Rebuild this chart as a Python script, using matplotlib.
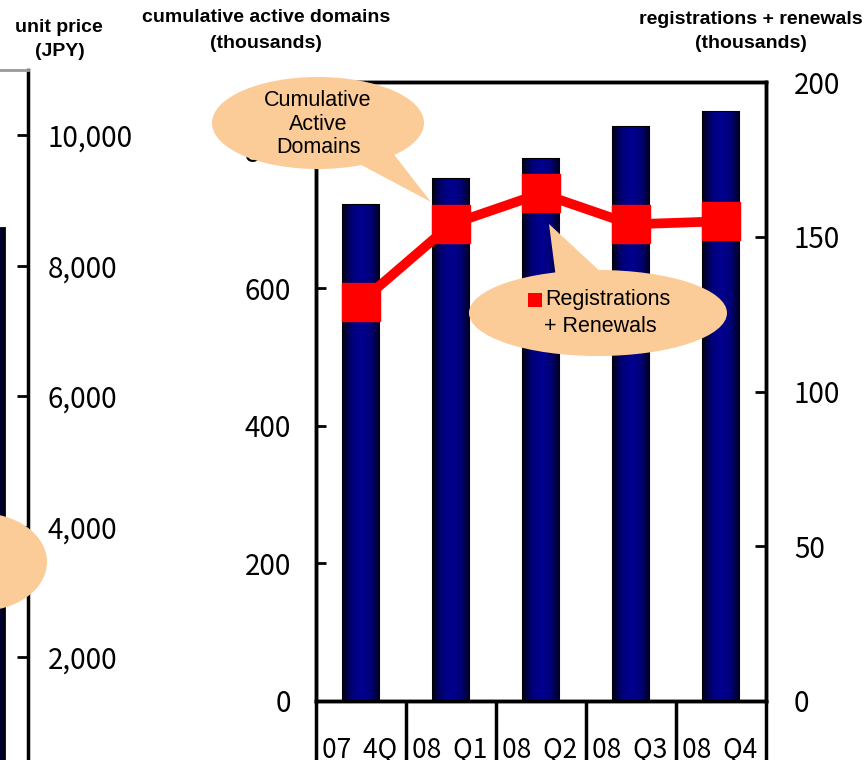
import numpy as np
import matplotlib
matplotlib.use('Agg')
import matplotlib.pyplot as plt
from matplotlib.patches import Ellipse, Polygon, Rectangle
from matplotlib.colors import LinearSegmentedColormap

# data
quarters = ['07  4Q', '08  Q1', '08  Q2', '08  Q3', '08  Q4']
active_domains = [721, 759, 788, 834, 856]      # thousands (left axis)
reg_renew = [129, 154, 164, 154, 155]            # thousands (right axis)
unit_price_visible = [8580]                      # partially visible bar of the left panel
price_ticks = [2000, 4000, 6000, 8000, 10000]

NUM_FONT = ['Noto Sans CJK JP', 'DejaVu Sans']
TXT_FONT = ['Liberation Sans', 'DejaVu Sans']
PEACH = '#FBCB98'
NUM_SIZE = 20

fig = plt.figure(figsize=(8.66, 7.60), dpi=100)
W, H = 866, 760

def px_axes(x0, y_top, x1, y_bot):
    return [x0 / W, (H - y_bot) / H, (x1 - x0) / W, (y_bot - y_top) / H]

# bar gradient (dark edges, lighter middle)
grad = LinearSegmentedColormap.from_list('navy', ['#000020', '#00007A', '#000090', '#00007A', '#000020'])

def gradient_bars(ax, bars):
    g = np.linspace(0, 1, 64).reshape(1, -1)
    for b in bars:
        x, y = b.get_x(), b.get_y()
        w, h = b.get_width(), b.get_height()
        im = ax.imshow(g, cmap=grad, aspect='auto', extent=(x, x + w, y, y + h),
                       zorder=b.get_zorder() + 0.1, interpolation='bicubic')
        im.set_clip_path(b)

# ---- left partial panel (unit price) ----
axl = fig.add_axes(px_axes(-174, 70, 28, 788))
bl = axl.bar([0], unit_price_visible, width=0.52, color='#000080', edgecolor='black', linewidth=2)
gradient_bars(axl, bl)
axl.set_xlim(-1.5, 0.5)
axl.set_ylim(0, 11000)
axl.set_yticks(price_ticks)
axl.set_yticklabels([f'{v:,}' for v in price_ticks], family=NUM_FONT, fontsize=NUM_SIZE)
axl.yaxis.tick_right()
axl.tick_params(axis='y', direction='in', length=8, width=2, pad=14)
axl.set_xticks([])
for s in ['left', 'bottom']:
    axl.spines[s].set_visible(False)
axl.spines['top'].set_color('#999999')
axl.spines['top'].set_linewidth(2)
axl.spines['right'].set_linewidth(2.5)

# ---- main panel ----
ax = fig.add_axes(px_axes(316, 82, 766, 701))
x = np.arange(len(quarters))
bars = ax.bar(x, active_domains, width=0.41, color='#000080', edgecolor='black', linewidth=1.5, zorder=2)
gradient_bars(ax, bars)
ax.set_xlim(-0.5, len(quarters) - 0.5)
ax.set_ylim(0, 900)
ax.set_yticks([0, 200, 400, 600, 800])
ax.set_yticklabels(['0', '200', '400', '600', '800'], family=NUM_FONT, fontsize=NUM_SIZE)
ax.tick_params(axis='y', direction='in', length=7, width=2, pad=18)
ax.set_xticks(x - 0.02)
ax.set_xticklabels(quarters, family=NUM_FONT, fontsize=19)
ax.set_xticks(np.arange(-0.5, len(quarters), 1.0), minor=True)
ax.tick_params(axis='x', which='major', length=0, pad=26)
ax.tick_params(axis='x', which='minor', direction='out', length=50, width=2.5)
for s in ax.spines.values():
    s.set_linewidth(2.5)

ax2 = ax.twinx()
ax2.plot(x, reg_renew, color='#FF0000', linewidth=7, marker='s', markersize=27,
         markerfacecolor='#FF0000', markeredgecolor='#FF0000', solid_joinstyle='miter', zorder=3)
ax2.set_ylim(0, 200)
ax2.set_yticks([0, 50, 100, 150, 200])
ax2.set_yticklabels(['0', '50', '100', '150', '200'], family=NUM_FONT, fontsize=NUM_SIZE)
ax2.tick_params(axis='y', direction='in', length=8, width=2, pad=20)
for s in ax2.spines.values():
    s.set_linewidth(2.5)

# ---- axis titles ----
TITLE_SIZE = 14
fig.text(266 / W, 1 - 17 / H, 'cumulative active domains', ha='center', va='center',
         family=TXT_FONT, fontsize=TITLE_SIZE, fontweight='bold')
fig.text(266 / W, 1 - 43 / H, '(thousands)', ha='center', va='center',
         family=TXT_FONT, fontsize=TITLE_SIZE, fontweight='bold')
fig.text(59 / W, 1 - 27 / H, 'unit price', ha='center', va='center',
         family=TXT_FONT, fontsize=TITLE_SIZE, fontweight='bold')
fig.text(60 / W, 1 - 52 / H, '(JPY)', ha='center', va='center',
         family=TXT_FONT, fontsize=TITLE_SIZE, fontweight='bold')
fig.text(751 / W, 1 - 19 / H, 'registrations + renewals', ha='center', va='center',
         family=TXT_FONT, fontsize=TITLE_SIZE, fontweight='bold')
fig.text(751 / W, 1 - 44 / H, '(thousands)', ha='center', va='center',
         family=TXT_FONT, fontsize=TITLE_SIZE, fontweight='bold')

# ---- callouts (pixel overlay) ----
ov = fig.add_axes([0, 0, 1, 1], zorder=10)
ov.set_xlim(0, W)
ov.set_ylim(H, 0)
ov.axis('off')
ov.patch.set_alpha(0)

ov.add_patch(Ellipse((318, 123), 212, 92, color=PEACH, lw=0))
ov.add_patch(Polygon([(352, 160), (392, 152), (431, 202)], closed=True, color=PEACH, lw=0))
ov.text(318, 124, 'Cumulative\nActive\nDomains', ha='center', va='center',
        family=TXT_FONT, fontsize=15.5, linespacing=1.17)

ov.add_patch(Ellipse((598, 313), 258, 86, color=PEACH, lw=0))
ov.add_patch(Polygon([(556, 278), (604, 275), (549, 224)], closed=True, color=PEACH, lw=0))
ov.add_patch(Rectangle((528, 293), 14, 14, color='#FF0000', lw=0))
ov.text(545, 300, 'Registrations', ha='left', va='center', family=TXT_FONT, fontsize=15.5)
ov.text(600, 326, '+ Renewals', ha='center', va='center', family=TXT_FONT, fontsize=15.5)

ov.add_patch(Ellipse((-20, 562), 134, 98, color=PEACH, lw=0))

fig.savefig('out.png', dpi=100)
